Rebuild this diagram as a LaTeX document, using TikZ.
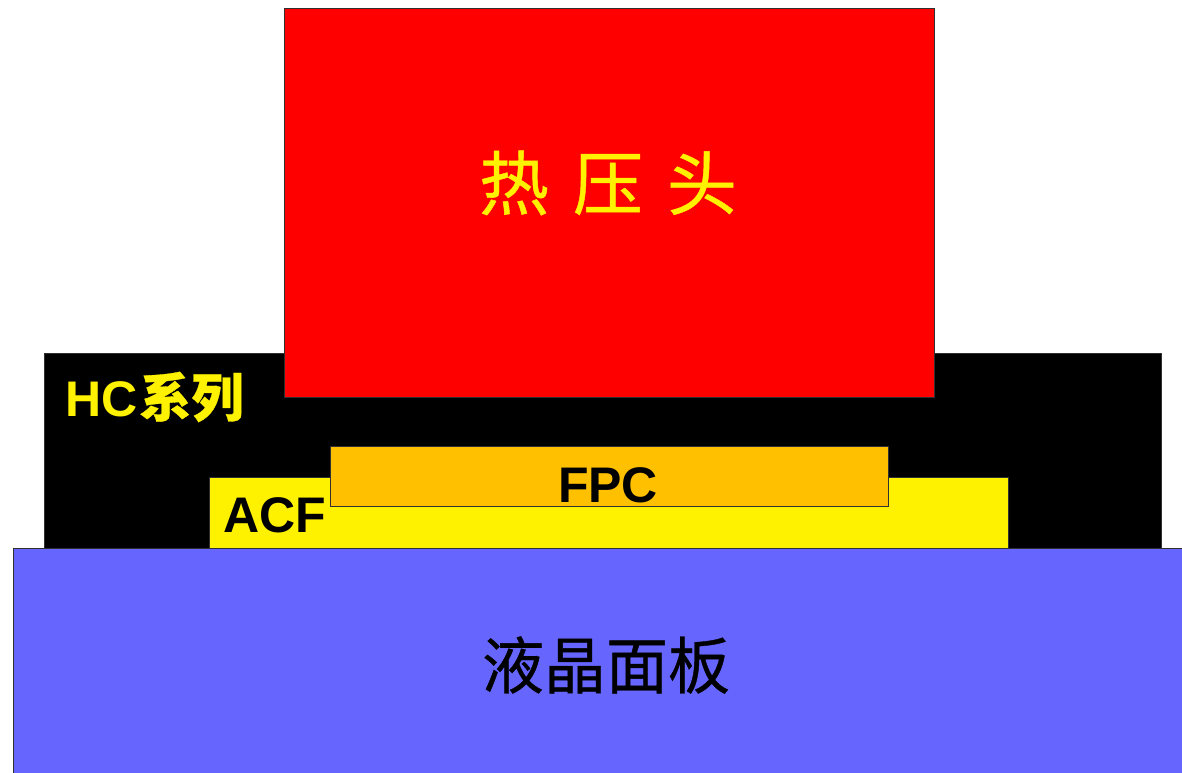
\documentclass[tikz,border=0pt]{standalone}
\usepackage{fontspec}
\setmainfont{Liberation Sans}
\newfontfamily\cjk[FakeBold=0.6]{Noto Sans CJK SC}
\definecolor{fpcorange}{HTML}{FFC000}
\definecolor{panelblue}{HTML}{6666FF}
\definecolor{edgegray}{HTML}{303030}
\begin{document}
\begin{tikzpicture}[x=1pt,y=-1pt,
  layer/.style={draw=edgegray,line width=1pt},
  en label/.style={inner sep=0pt,font=\bfseries\fontsize{50}{50}\selectfont},
  cn label/.style={inner sep=0pt,font=\cjk\fontsize{#1}{#1}\selectfont},
  cn label/.default=64]

  \useasboundingbox (0,0) rectangle (1182,772);
  \fill[white] (0,0) rectangle (1182,772);

  % layers, back to front
  \draw[layer,fill=black] (44,353) rectangle (1161,548);
  \draw[layer,fill=red] (284,8) rectangle (934,397);
  \draw[layer,fill=yellow] (209,477) rectangle (1008,548);
  \draw[layer,fill=fpcorange] (330,446) rectangle (888,506);
  \draw[layer,fill=panelblue] (13,548) rectangle (1195,785);

  \node[cn label=70,text=yellow] (head) at (608,183) {热\hspace{24pt}压\hspace{24pt}头};
  \node[en label,text=yellow,anchor=west] (hc) at (65,397)
    {HC\hspace{2pt}{\cjk\fontsize{52}{52}\selectfont 系列}};
  \node[en label] (acf) at (275,515) {ACF};
  \node[en label] (fpc) at (608,485) {FPC};
  \node[cn label=62] (panel) at (606,665) {液晶面板};
\end{tikzpicture}
\end{document}
